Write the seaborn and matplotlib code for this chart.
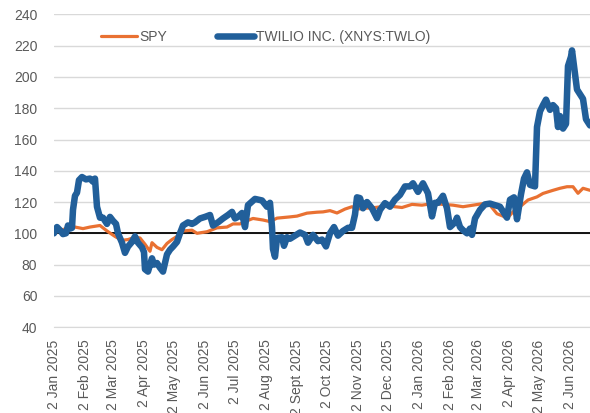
import numpy as np
import pandas as pd
import matplotlib
matplotlib.use("Agg")
import matplotlib.pyplot as plt
import seaborn as sns

# TWLO and SPY, rebased to 100 on 2 Jan 2025
twlo_dates = [
    "2025-01-02", "2025-01-05", "2025-01-08", "2025-01-11", "2025-01-14", "2025-01-16",
    "2025-01-18", "2025-01-20", "2025-01-21", "2025-01-23", "2025-01-25", "2025-01-27",
    "2025-01-30", "2025-02-03", "2025-02-07", "2025-02-10", "2025-02-12", "2025-02-14",
    "2025-02-17", "2025-02-20", "2025-02-24", "2025-02-27", "2025-03-02", "2025-03-05",
    "2025-03-07", "2025-03-11", "2025-03-14", "2025-03-17", "2025-03-21", "2025-03-24",
    "2025-03-27", "2025-03-31", "2025-04-02", "2025-04-03", "2025-04-06", "2025-04-10",
    "2025-04-12", "2025-04-15", "2025-04-18", "2025-04-21", "2025-04-25", "2025-04-28",
    "2025-05-01", "2025-05-05", "2025-05-08", "2025-05-11", "2025-05-16", "2025-05-20",
    "2025-05-23", "2025-05-28", "2025-06-02", "2025-06-07", "2025-06-10", "2025-06-15",
    "2025-06-20", "2025-06-25", "2025-06-29", "2025-07-02", "2025-07-05", "2025-07-09",
    "2025-07-12", "2025-07-15", "2025-07-22", "2025-07-29", "2025-08-03", "2025-08-06",
    "2025-08-08", "2025-08-09", "2025-08-11", "2025-08-13", "2025-08-18", "2025-08-20",
    "2025-08-23", "2025-08-26", "2025-08-31", "2025-09-05", "2025-09-10", "2025-09-13",
    "2025-09-18", "2025-09-23", "2025-09-27", "2025-10-01", "2025-10-05", "2025-10-09",
    "2025-10-13", "2025-10-18", "2025-10-23", "2025-10-27", "2025-10-30", "2025-11-01",
    "2025-11-04", "2025-11-07", "2025-11-11", "2025-11-16", "2025-11-21", "2025-11-24",
    "2025-11-29", "2025-12-04", "2025-12-09", "2025-12-14", "2025-12-19", "2025-12-24",
    "2025-12-27", "2026-01-01", "2026-01-06", "2026-01-11", "2026-01-15", "2026-01-18",
    "2026-01-21", "2026-01-26", "2026-01-30", "2026-02-02", "2026-02-07", "2026-02-09",
    "2026-02-12", "2026-02-15", "2026-02-19", "2026-02-22", "2026-02-24", "2026-02-27",
    "2026-03-04", "2026-03-09", "2026-03-14", "2026-03-19", "2026-03-24", "2026-03-31",
    "2026-04-03", "2026-04-07", "2026-04-10", "2026-04-14", "2026-04-17", "2026-04-20",
    "2026-04-23", "2026-04-28", "2026-04-30", "2026-05-03", "2026-05-06", "2026-05-09",
    "2026-05-13", "2026-05-16", "2026-05-19", "2026-05-21", "2026-05-23", "2026-05-26",
    "2026-05-29", "2026-05-31", "2026-06-03", "2026-06-04", "2026-06-06", "2026-06-09",
    "2026-06-12", "2026-06-15", "2026-06-18", "2026-06-22",
]
twlo_values = [
    100, 104, 102, 99.5, 100, 105,
    103, 103.5, 115, 124, 126, 134,
    136, 134.5, 135, 133, 135, 117,
    110, 110, 106, 110.5, 108, 106,
    100, 94, 87.5, 91.5, 94.5, 98,
    94, 91, 88, 77, 75.5, 84,
    80, 81, 78, 75.5, 86.5, 89.5,
    91.5, 94.5, 100, 105, 107, 106,
    107, 109.5, 110.5, 111.7, 105, 107,
    109.5, 111.7, 113.7, 109.5, 110.5, 113,
    104, 118, 122, 121, 117, 119.5,
    104, 90, 85, 97, 97.5, 92,
    97.5, 96.5, 98.5, 100.5, 99, 94,
    99, 95, 96, 91.6, 100, 104,
    98.5, 101.5, 103.5, 103.5, 112, 123,
    122.5, 116, 120, 116, 109.7, 115,
    119.3, 117, 121.6, 124.6, 130, 130,
    132, 126.5, 132, 125.6, 110.8, 119.5,
    119.5, 124, 116, 104, 107, 110,
    104, 102, 100, 103, 99, 109.5,
    115, 118.5, 119, 118, 117, 110,
    121.5, 123, 109, 125, 135, 139,
    131, 130, 168, 178, 182, 185.5,
    179, 182, 180, 168, 175, 167,
    170, 207, 213, 217, 207, 192,
    189, 186, 173, 169,
]

spy_dates = [
    "2025-01-02", "2025-01-08", "2025-01-15", "2025-01-23", "2025-01-31", "2025-02-07",
    "2025-02-17", "2025-02-24", "2025-03-04", "2025-03-11", "2025-03-17", "2025-03-24",
    "2025-03-29", "2025-04-03", "2025-04-08", "2025-04-10", "2025-04-15", "2025-04-20",
    "2025-04-25", "2025-04-30", "2025-05-05", "2025-05-11", "2025-05-20", "2025-05-25",
    "2025-06-04", "2025-06-14", "2025-06-24", "2025-06-30", "2025-07-07", "2025-07-14",
    "2025-07-20", "2025-07-30", "2025-08-06", "2025-08-13", "2025-08-26", "2025-09-02",
    "2025-09-12", "2025-09-22", "2025-09-28", "2025-10-05", "2025-10-12", "2025-10-20",
    "2025-10-27", "2025-11-01", "2025-11-09", "2025-11-19", "2025-12-02", "2025-12-16",
    "2025-12-26", "2026-01-05", "2026-01-15", "2026-01-26", "2026-02-05", "2026-02-15",
    "2026-02-25", "2026-03-07", "2026-03-14", "2026-03-21", "2026-03-27", "2026-03-31",
    "2026-04-06", "2026-04-13", "2026-04-21", "2026-04-30", "2026-05-06", "2026-05-16",
    "2026-05-23", "2026-05-30", "2026-06-05", "2026-06-10", "2026-06-15", "2026-06-22",
]
spy_values = [
    100, 102, 103, 104, 103, 104,
    105, 101.5, 98, 95.5, 96, 97.5,
    97, 93, 88.5, 94, 91, 89.5,
    93.5, 96, 98, 101.5, 102, 100,
    101, 103.5, 104, 106, 106, 108,
    109.5, 108.5, 107.5, 109.7, 110.5, 111,
    112.9, 113.5, 113.7, 114.5, 113, 115.5,
    117, 115.5, 116, 116.5, 117.5, 116.5,
    118.5, 118, 119, 118.5, 118, 117,
    118, 119, 118, 112.5, 111, 109.5,
    113.7, 117, 121.3, 123.3, 125.5, 127.5,
    128.8, 129.8, 129.8, 125.6, 128.8, 127.5,
]

tick_dates = pd.date_range("2025-01-01", "2026-06-01", freq="MS") + pd.Timedelta(days=1)
tick_labels = [
    "2 Jan 2025", "2 Feb 2025", "2 Mar 2025", "2 Apr 2025", "2 May 2025", "2 Jun 2025",
    "2 Jul 2025", "2 Aug 2025", "2 Sept 2025", "2 Oct 2025", "2 Nov 2025", "2 Dec 2025",
    "2 Jan 2026", "2 Feb 2026", "2 Mar 2026", "2 Apr 2026", "2 May 2026", "2 Jun 2026",
]

sns.set_style("white")
plt.rcParams['font.family'] = ['Liberation Sans', 'DejaVu Sans']

spy = pd.DataFrame({"date": pd.to_datetime(spy_dates), "value": spy_values})
twlo = pd.DataFrame({"date": pd.to_datetime(twlo_dates), "value": twlo_values})

fig = plt.figure(figsize=(5.9, 4.13), dpi=100)
ax = fig.add_axes([0.0915, 0.208, 0.9085, 0.757])

sns.lineplot(data=spy, x="date", y="value", ax=ax, color="#E97132", lw=2.3, label="SPY")
sns.lineplot(data=twlo, x="date", y="value", ax=ax, color="#215F9A", lw=4.7,
             label="TWILIO INC. (XNYS:TWLO)", solid_capstyle="round", solid_joinstyle="round")

ax.axhline(100, color="black", lw=1.3, zorder=1.5)

ax.set_ylim(40, 240)
ax.set_yticks(np.arange(40, 241, 20))
ax.set_xlim(pd.Timestamp("2025-01-02"), pd.Timestamp("2026-06-22"))
ax.set_xticks(tick_dates)
ax.set_xticklabels(tick_labels, rotation=90)
ax.grid(axis="y", color="#d9d9d9", lw=1)
ax.set_axisbelow(True)
ax.set_xlabel("")
ax.set_ylabel("")

for side in ["top", "right", "left"]:
    ax.spines[side].set_visible(False)
ax.spines["bottom"].set_color("#d9d9d9")
ax.tick_params(axis="x", length=5, color="#bfbfbf", pad=4, labelsize=10, labelcolor="#595959")
ax.tick_params(axis="y", length=0, pad=12, labelsize=10, labelcolor="#595959")

ax.legend(loc="center", bbox_to_anchor=(0.395, 0.927), ncol=2, frameon=False,
          fontsize=10, handlelength=2.6, handletextpad=0.2, columnspacing=3.6,
          labelcolor="#595959")

fig.savefig("out.png", dpi=100)
